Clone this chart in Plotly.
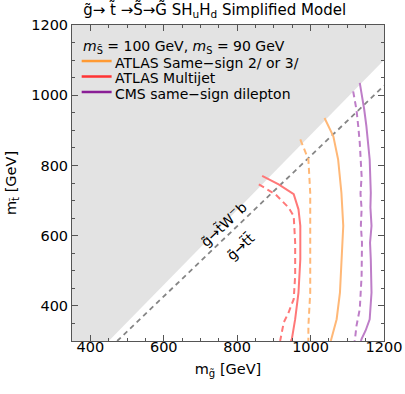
import plotly.graph_objects as go

# kinematic boundaries (m_gluino - m_stop)
gray_gap = 100
top_gap = 173
x_range = [350, 1200]
y_range = [300, 1200]

# ATLAS multijet
red_solid_x = [868, 913, 954, 967, 972, 972, 967, 958, 949, 946]
red_solid_y = [770, 746, 718, 675, 628, 533, 438, 362, 306, 300]
red_dash_x = [859, 904, 940, 954, 958, 958, 954, 940, 927, 918, 917]
red_dash_y = [746, 718, 680, 656, 580, 486, 419, 381, 353, 306, 300]

# ATLAS same-sign 2l / 3l
orange_solid_x = [1038, 1062, 1075, 1084, 1089, 1084, 1080, 1071, 1057, 1055]
orange_solid_y = [935, 883, 817, 722, 628, 533, 438, 362, 306, 300]
orange_dash_x = [972, 994, 999, 999, 999, 999, 994, 994]
orange_dash_y = [874, 817, 722, 628, 533, 438, 343, 300]

# CMS same-sign dilepton
purple_solid_x = [1134, 1139, 1146, 1152, 1158, 1161, 1164, 1163, 1166, 1162, 1164, 1166, 1161, 1150, 1139, 1137]
purple_solid_y = [1035, 1006, 960, 912, 860, 817, 722, 680, 628, 580, 533, 438, 362, 330, 306, 300]
purple_dash_x = [1116, 1125, 1130, 1134, 1139, 1136, 1139, 1137, 1140, 1139, 1134, 1125, 1121, 1120]
purple_dash_y = [1011, 959, 910, 864, 770, 720, 675, 630, 580, 486, 391, 343, 306, 300]

legend_title = "<i>m</i><sub>S\u0303</sub> = 100 GeV, <i>m</i><sub>S</sub> = 90 GeV"
legend_names = ["ATLAS Same\u2212sign 2/ or 3/", "ATLAS Multijet", "CMS same\u2212sign dilepton"]
legend_colors = ["#FF9A33", "#FF3333", "#8A1F96"]

FONT = "DejaVu Sans, Liberation Sans, Arial, sans-serif"

fig = go.Figure()

# kinematically forbidden region
fig.add_trace(go.Scatter(
    x=[x_range[0], x_range[0] + gray_gap, x_range[1], x_range[1], x_range[0]],
    y=[y_range[0], y_range[0], x_range[1] - gray_gap, y_range[1], y_range[1]],
    fill="toself", fillcolor="#E3E3E3", mode="none", showlegend=False, hoverinfo="skip",
))

# top threshold line
fig.add_trace(go.Scatter(
    x=[y_range[0] + top_gap, x_range[1]],
    y=[y_range[0], x_range[1] - top_gap],
    mode="lines", line=dict(color="#858585", width=1.8, dash="5px,4px"), showlegend=False,
))

curves = [
    (red_solid_x, red_solid_y, "#FF7878", "solid"),
    (red_dash_x, red_dash_y, "#FF7878", "6px,4px"),
    (orange_solid_x, orange_solid_y, "#FFB877", "solid"),
    (orange_dash_x, orange_dash_y, "#FFB877", "6px,4px"),
    (purple_solid_x, purple_solid_y, "#BE7EC8", "solid"),
    (purple_dash_x, purple_dash_y, "#BE7EC8", "6px,4px"),
]
for cx, cy, col, dash in curves:
    fig.add_trace(go.Scatter(x=cx, y=cy, mode="lines", showlegend=False,
                             line=dict(color=col, width=2, dash=dash)))

# legend (drawn by hand to get the tight line spacing)
leg_x0, leg_x1, leg_tx = 0.031, 0.127, 0.131
leg_title_y = 0.929
leg_rows_y = [0.880, 0.831, 0.782]
fig.add_annotation(x=0.028, y=leg_title_y, xref="paper", yref="paper", xanchor="left",
                   yanchor="middle", text=legend_title, showarrow=False,
                   font=dict(size=14, color="black"))
for name, col, ly in zip(legend_names, legend_colors, leg_rows_y):
    fig.add_shape(type="line", xref="paper", yref="paper", x0=leg_x0, x1=leg_x1,
                  y0=ly + 0.006, y1=ly + 0.006, line=dict(color=col, width=2.5))
    fig.add_annotation(x=leg_tx, y=ly, xref="paper", yref="paper", xanchor="left",
                       yanchor="middle", text=name, showarrow=False,
                       font=dict(size=14, color="black"))

# decay mode labels
fig.add_annotation(x=762, y=632, text="g\u0303\u2192t\u0303W<sup>\u2212</sup>b", showarrow=False,
                   textangle=-43.6, font=dict(size=14, color="black"))
fig.add_annotation(x=810, y=568, text="g\u0303\u2192t\u0303t\u0304", showarrow=False,
                   textangle=-43.6, font=dict(size=14, color="black"))

for ax in (fig.layout.xaxis, fig.layout.yaxis):
    ax.update(
        showgrid=False, zeroline=False, showline=True, linecolor="#555555", linewidth=1,
        mirror="allticks", ticks="inside", ticklen=6, tickwidth=1, tickcolor="#555555",
        tick0=400, dtick=200, tickfont=dict(size=14.5, color="black"), automargin=False,
        minor=dict(ticks="inside", ticklen=3, tickwidth=1, dtick=50, tickcolor="#555555",
                   showgrid=False),
    )

fig.update_xaxes(range=x_range, ticklabelstandoff=-7,
                 title=dict(text="m<sub>g\u0303</sub> [GeV]", font=dict(size=14.5, color="black"),
                            standoff=9))
fig.update_yaxes(range=y_range,
                 title=dict(text="m<sub>t\u0303</sub> [GeV]", font=dict(size=14.5, color="black"),
                            standoff=11))

fig.update_layout(
    width=405, height=394,
    margin=dict(l=72, r=21, t=25, b=53, autoexpand=False),
    plot_bgcolor="white", paper_bgcolor="white",
    font=dict(family=FONT, color="black"),
    showlegend=False,
    title=dict(text="g\u0303\u2192 t\u0303 \u2192S\u0303\u2192G\u0303 SH<sub>u</sub>H<sub>d</sub> Simplified Model",
               x=0.53, xanchor="center", y=0.988, yanchor="top", font=dict(size=15)),
)

# drop the default page margin so the figure sits at the window's corner
fig.write_html("out.html", config={"displayModeBar": False},
               post_script="document.body.style.margin='0';")
